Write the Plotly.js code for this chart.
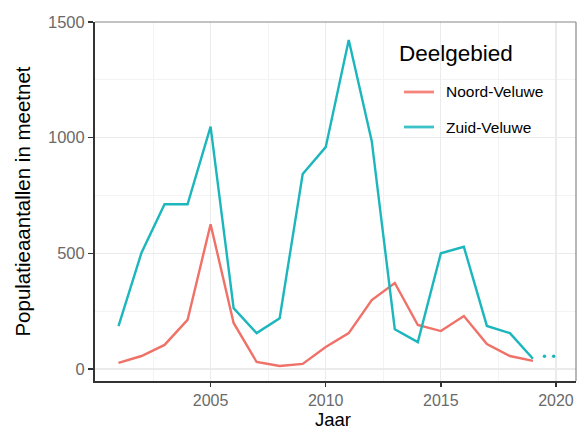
<!DOCTYPE html>
<html><head><meta charset="utf-8">
<script src="https://cdn.plot.ly/plotly-3.0.1.min.js"></script>
<style>html,body{margin:0;padding:0;background:#fff}#c{width:577px;height:430px}</style>
</head><body><div id="c"></div>
<script>
const years = [2001,2002,2003,2004,2005,2006,2007,2008,2009,2010,2011,2012,2013,2014,2015,2016,2017,2018,2019];
const noordVeluwe = [26,56,104,212,626,199,30,13,22,95,155,298,372,190,164,229,108,56,35];
const zuidVeluwe = [185,503,712,712,1048,263,155,219,843,959,1422,985,172,116,500,528,186,155,44];
const zuidExtraYears = [2019.5,2019.9];
const zuidExtra = [55,55];
const seriesNames = ['Noord-Veluwe','Zuid-Veluwe'];
const legendTitle = 'Deelgebied';
const xTitle = 'Jaar';
const yTitle = 'Populatieaantallen in meetnet';
const xTicks = [2005,2010,2015,2020];
const yTicks = [0,500,1000,1500];

const colors = ['#ef7167', '#1cb6bd'];
const sampleColors = ['#f5857c', '#3cc2c8'];

const traces = [
  {x: years, y: noordVeluwe, name: seriesNames[0], type:'scatter', mode:'lines', line:{color:colors[0],width:2.4}, showlegend:false},
  {x: years, y: zuidVeluwe, name: seriesNames[1], type:'scatter', mode:'lines', line:{color:colors[1],width:2.4}, showlegend:false},
  {x: zuidExtraYears, y: zuidExtra, type:'scatter', mode:'markers', marker:{color:colors[1],size:3.5}, showlegend:false, hoverinfo:'skip'}
];

// plot area in pixels: left 95, top 22, width 481, height 359
const L = 95, T = 22, W = 481, H = 359;
const px = v => (v - L) / W;
const py = v => 1 - (v - T) / H;

const shapes = [
  {type:'line', xref:'paper', yref:'paper', x0:0, x1:1, y0:1, y1:1, line:{color:'#888', width:1.2}},
  {type:'line', xref:'paper', yref:'paper', x0:1, x1:1, y0:0, y1:1, line:{color:'#888', width:1.2}},
  {type:'rect', xref:'paper', yref:'paper', x0:px(390), x1:px(572), y0:py(155), y1:py(30), fillcolor:'#fff', line:{width:0}, layer:'below'}
];
const annotations = [
  {xref:'paper', yref:'paper', x:px(397), y:py(53), xanchor:'left', yanchor:'middle', text:legendTitle, showarrow:false, font:{size:22.5, color:'#000'}},
  {xref:'paper', yref:'paper', x:px(333), y:py(419), xanchor:'center', yanchor:'middle', text:xTitle, showarrow:false, font:{size:18.5, color:'#000'}, borderpad:0}
];
const itemY = [92, 127];
seriesNames.forEach((n, i) => {
  shapes.push({type:'line', xref:'paper', yref:'paper', x0:px(404), x1:px(434), y0:py(itemY[i]), y1:py(itemY[i]), line:{color:sampleColors[i], width:2.8}});
  annotations.push({xref:'paper', yref:'paper', x:px(444), y:py(itemY[i]), xanchor:'left', yanchor:'middle', text:n, showarrow:false, font:{size:15.5, color:'#000'}});
});

const layout = {
  width:577, height:430,
  margin:{l:L, r:577-L-W, t:T, b:430-T-H},
  paper_bgcolor:'#fff', plot_bgcolor:'#fff',
  font:{family:'"Liberation Sans", Arial, sans-serif', color:'#000'},
  xaxis:{
    range:[1999.98,2020.87], tickvals:xTicks, ticktext:xTicks.map(String),
    showgrid:true, gridcolor:'#ebebeb', gridwidth:1.3,
    minor:{dtick:2.5, tick0:2002.5, showgrid:true, gridcolor:'#f3f3f3', gridwidth:1, ticks:''},
    zeroline:false, showline:true, linecolor:'#333', linewidth:2,
    ticks:'outside', ticklen:4, tickwidth:1.5, tickcolor:'#333',
    tickfont:{size:16, color:'#6a6a6a'}
  },
  yaxis:{
    range:[-52,1500], tickvals:yTicks, ticktext:yTicks.map(String),
    showgrid:true, gridcolor:'#ebebeb', gridwidth:1.3,
    minor:{dtick:250, tick0:250, showgrid:true, gridcolor:'#f3f3f3', gridwidth:1, ticks:''},
    zeroline:false, showline:true, linecolor:'#333', linewidth:2,
    ticks:'outside', ticklen:5, tickwidth:1.5, tickcolor:'#333',
    tickfont:{size:16.5, color:'#6a6a6a'},
    title:{text:yTitle, font:{size:20.5, color:'#000'}, standoff:12}
  },
  shapes: shapes,
  annotations: annotations,
  showlegend:false
};
Plotly.newPlot('c', traces, layout, {displayModeBar:false, staticPlot:true});
</script></body></html>
